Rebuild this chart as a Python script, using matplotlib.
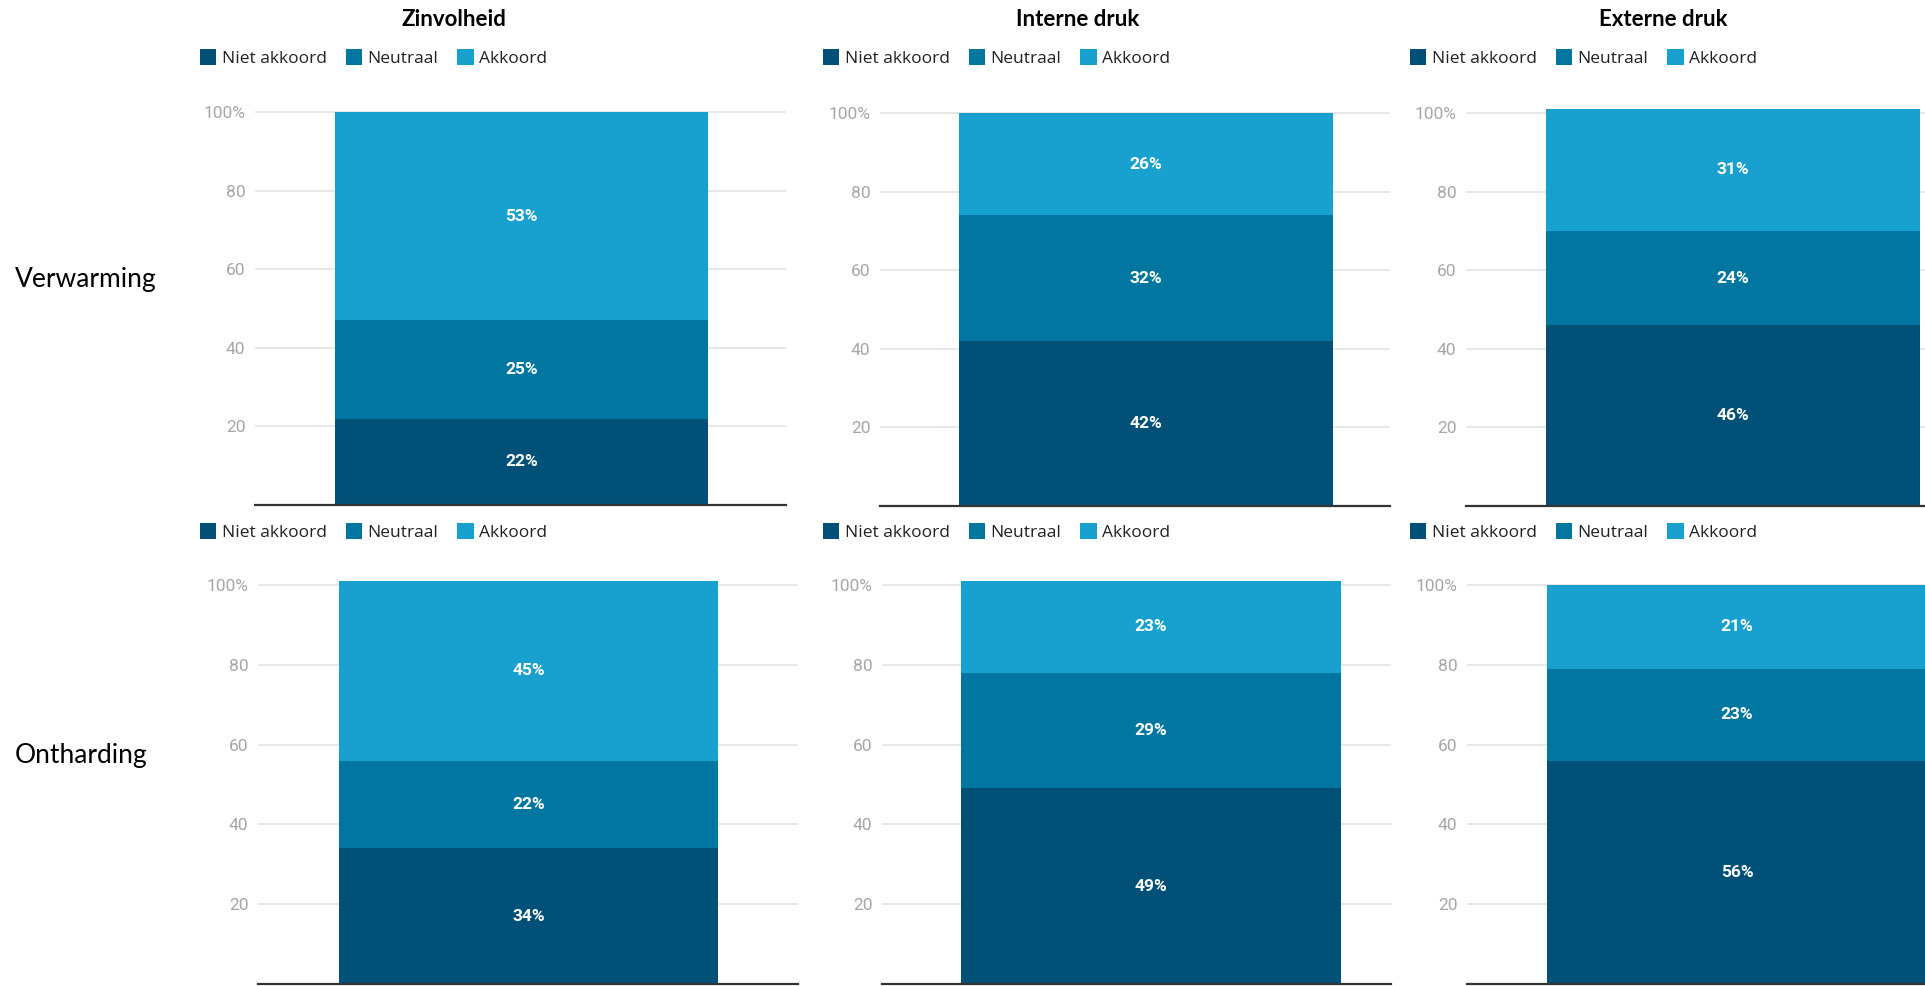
import matplotlib
matplotlib.use('Agg')
import matplotlib.pyplot as plt

# Data
criteria = ['Zinvolheid', 'Interne druk', 'Externe druk']
measures = ['Verwarming', 'Ontharding']
series = ['Niet akkoord', 'Neutraal', 'Akkoord']
niet_akkoord = [[22, 42, 46], [34, 49, 56]]
neutraal = [[25, 32, 24], [22, 29, 23]]
akkoord = [[53, 26, 31], [45, 23, 21]]
ytick_vals = [20, 40, 60, 80, 100]
ytick_labels = ['20', '40', '60', '80', '100%']

colors = ['#005078', '#0076a0', '#18a0ce']

W, H = 1925, 986
fig = plt.figure(figsize=(W / 100, H / 100), dpi=100)

# panel layout in pixels: grid start, bar start, bar width, grid end, zero line y, px per unit
layout = [
    [(255, 335, 373, 786, 505, 3.93), (880, 959, 374, 1390, 506, 3.93), (1466, 1546, 374, 1925, 506, 3.93)],
    [(258, 339, 379, 798, 984, 3.99), (882, 961, 380, 1391, 984, 3.99), (1467, 1547, 380, 1925, 984, 3.99)],
]
legend_pos = [[(200, 58), (823, 58), (1410, 58)], [(200, 532), (823, 532), (1410, 532)]]
ymax = 103

for r in range(2):
    for c in range(3):
        g, b0, bw, g1, y0, ppu = layout[r][c]
        ax = fig.add_axes([g / W, 1 - y0 / H, (g1 - g) / W, ymax * ppu / H])
        vals = [niet_akkoord[r][c], neutraal[r][c], akkoord[r][c]]
        bottom = 0
        handles = []
        for v, col, name in zip(vals, colors, series):
            h = ax.bar(0, v, width=1, bottom=bottom, align='edge', color=col, label=name)
            handles.append(h)
            ax.text(0.5, bottom + v / 2, f'{v}%', ha='center', va='center', color='white',
                    fontsize=12.5, fontweight='bold', family='Roboto')
            bottom += v
        ax.set_xlim((g - b0) / bw, (g1 - b0) / bw)
        ax.set_ylim(0, ymax)
        ax.set_yticks(ytick_vals)
        ax.set_yticklabels(ytick_labels, fontsize=12.5, family='Roboto', color='#a6a6a6')
        ax.set_xticks([])
        ax.tick_params(axis='y', length=0, pad=7)
        ax.grid(axis='y', color='#e3e3e3', linewidth=1.2)
        ax.set_axisbelow(True)
        for s in ['top', 'left', 'right']:
            ax.spines[s].set_visible(False)
        ax.spines['bottom'].set_color('#333333')
        ax.spines['bottom'].set_linewidth(1.6)

        lx, ly = legend_pos[r][c]
        fig.legend(handles=handles, labels=series, loc='center left',
                   bbox_to_anchor=(lx / W, 1 - ly / H), ncol=3, frameon=False,
                   borderpad=0, borderaxespad=0, handlelength=0.95, handleheight=1.0,
                   handletextpad=0.3, columnspacing=1.1,
                   prop={'family': 'Open Sans', 'size': 12.5}, labelcolor='#222222')

# column titles
for x, name in zip([454, 1078, 1663], criteria):
    fig.text(x / W, 1 - 20 / H, name, ha='center', va='center', fontsize=16,
             fontweight='bold', family='Lato')

# row labels
for y, name in zip([280, 755], measures):
    fig.text(15 / W, 1 - y / H, name, ha='left', va='center', fontsize=19, family='Lato')

plt.savefig('out.png', dpi=100)
